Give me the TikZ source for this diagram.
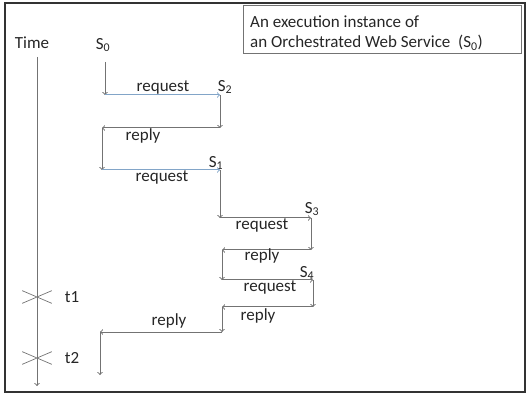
\documentclass[tikz,border=0pt]{standalone}
\usepackage{fontspec}
\setmainfont{Carlito}
\usepackage{tikz}
\usetikzlibrary{shapes.misc,arrows}
\definecolor{wire}{RGB}{115,115,115}
\definecolor{callwire}{RGB}{130,165,200}
\tikzstyle{lbl} = [font=\fontsize{17}{19}\selectfont, text=black!85, inner sep=0pt]
\tikzstyle{line} = [draw=wire, line width=1pt, ->]
\tikzstyle{call} = [draw=callwire, line width=1pt, ->]
\tikzstyle{tick} = [draw=wire, line width=0.7pt, cross out, minimum width=29pt, minimum height=12pt, inner sep=0pt]

\begin{document}
\begin{tikzpicture}[x=1pt,y=-1pt]
\useasboundingbox (0,0) rectangle (530,395);
\draw [line width=1.4pt, draw=black!80] (5,3) rectangle (525,392);
\draw [line width=0.7pt, draw=wire] (243,5) rectangle (521,53);
\node [lbl, anchor=west] (legend-a) at (250,22) {An execution instance of};
\node [lbl, anchor=west] (legend-b) at (250,43) {an Orchestrated Web Service\ \ (S\textsubscript{0})};
% time axis
\node [lbl] (time) at (32,43) {Time};
\coordinate (axis-top) at (37,57);
\coordinate (axis-end) at (37,386);
\path [line] (axis-top) -- (axis-end);
\node [tick] (t1-tick) at (37,297) {};
\node [tick] (t2-tick) at (37,358) {};
\node [lbl] (t1) at (72,297) {t1};
\node [lbl] (t2) at (72,358) {t2};
% services
\node [lbl] (s0) at (103,45) {S\textsubscript{0}};
\node [lbl] (s2) at (225,87) {S\textsubscript{2}};
\node [lbl] (s1) at (216,163) {S\textsubscript{1}};
\node [lbl] (s3) at (312,209) {S\textsubscript{3}};
\node [lbl] (s4) at (307,273) {S\textsubscript{4}};
% turning points
\coordinate (s0-start) at (105,62);
\coordinate (a1) at (105,95);
\coordinate (b1) at (220,95);
\coordinate (b2) at (220,128);
\coordinate (a2) at (102,128);
\coordinate (a3) at (102,170);
\coordinate (c1) at (220,170);
\coordinate (c2) at (220,218);
\coordinate (d1) at (311,218);
\coordinate (d2) at (311,250);
\coordinate (c3) at (222,250);
\coordinate (c4) at (222,280);
\coordinate (e1) at (313,280);
\coordinate (e2) at (313,307);
\coordinate (c5) at (222,307);
\coordinate (c6) at (222,332);
\coordinate (a4) at (100,332);
\coordinate (a5) at (100,375);
\path [line] (s0-start) -- (a1);
\path [call] (a1) -- (b1);
\path [line] (b1) -- (b2);
\path [line] (b2) -- (a2);
\path [line] (a2) -- (a3);
\path [call] (a3) -- (c1);
\path [line] (c1) -- (c2);
\path [line] (c2) -- (d1);
\path [line] (d1) -- (d2);
\path [line] (d2) -- (c3);
\path [line] (c3) -- (c4);
\path [line] (c4) -- (e1);
\path [line] (e1) -- (e2);
\path [line] (e2) -- (c5);
\path [line] (c5) -- (c6);
\path [line] (c6) -- (a4);
\path [line] (a4) -- (a5);
% message labels
\node [lbl] (req-1) at (163,87) {request};
\node [lbl] (rep-1) at (143,136) {reply};
\node [lbl] (req-2) at (162,177) {request};
\node [lbl] (req-3) at (262,225) {request};
\node [lbl] (rep-2) at (262,256) {reply};
\node [lbl] (req-4) at (270,287) {request};
\node [lbl] (rep-3) at (258,316) {reply};
\node [lbl] (rep-4) at (169,321) {reply};
\end{tikzpicture}
\end{document}
